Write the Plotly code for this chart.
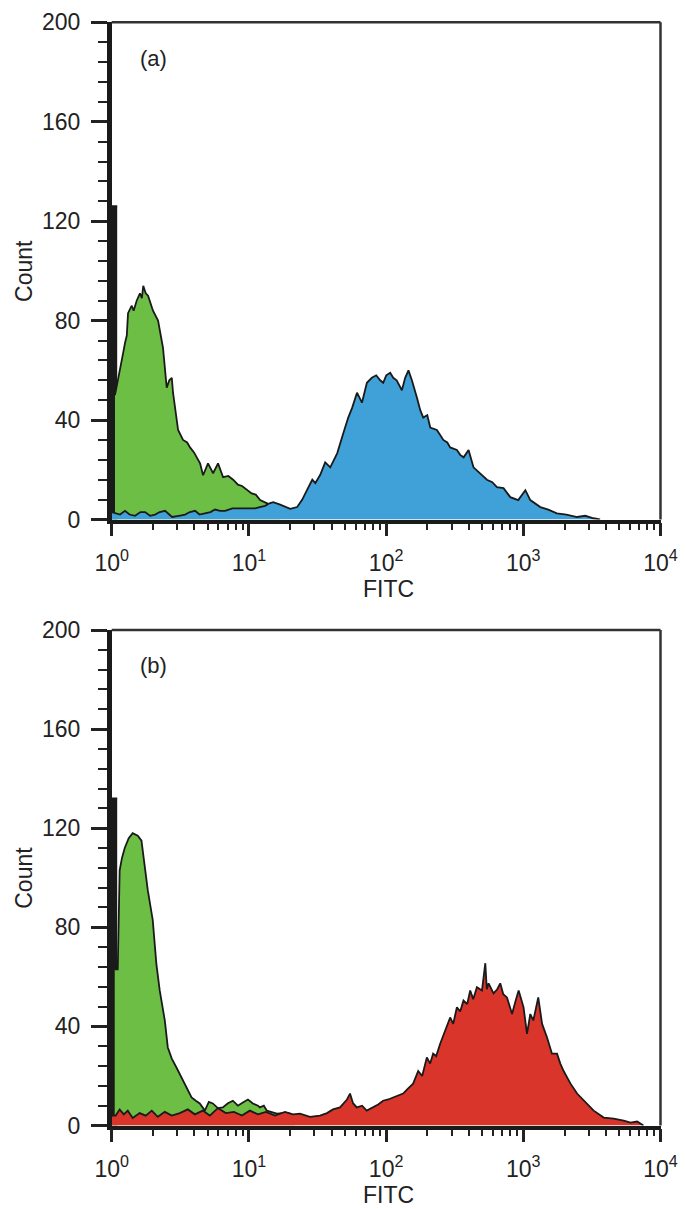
import plotly.graph_objects as go

# ---------------- data (log10 FITC position, count) ----------------
# Panel (a)
spike_a_exp = [0.0, 0.04]
spike_a_cnt = [126, 126]

green_a_exp = [0.024, 0.040, 0.061, 0.080, 0.097, 0.110, 0.119, 0.146, 0.160, 0.182, 0.206, 0.220, 0.230,
               0.248, 0.265, 0.301, 0.338, 0.374, 0.401, 0.420, 0.438, 0.447, 0.484, 0.520, 0.550, 0.571,
               0.600, 0.644, 0.666, 0.702, 0.739, 0.775, 0.812, 0.850, 0.885, 0.920, 0.950, 0.987, 1.020,
               1.050, 1.082, 1.133, 1.177, 1.230]
green_a_cnt = [50, 55, 60, 66, 71, 74, 83, 86, 84, 88, 91, 89, 94,
               91, 90, 84, 80, 69, 53, 56, 57, 51, 36, 32, 31, 29,
               27, 22.6, 17.8, 22.6, 18.6, 22.6, 17, 17.5, 16, 14, 13.5, 11.8, 10.5,
               10, 7.8, 6.5, 5, 2]

blue_a_exp = [0.0, 0.030, 0.061, 0.097, 0.130, 0.170, 0.210, 0.243, 0.280, 0.316, 0.350, 0.389, 0.440,
              0.490, 0.535, 0.570, 0.608, 0.640, 0.681, 0.720, 0.753, 0.790, 0.827, 0.880, 0.936, 0.990,
              1.045, 1.080, 1.118, 1.150, 1.177, 1.228, 1.270, 1.301, 1.352, 1.389, 1.425, 1.462, 1.484,
              1.520, 1.556, 1.593, 1.620, 1.644, 1.688, 1.724, 1.753, 1.788, 1.824, 1.860, 1.896, 1.928,
              1.957, 1.979, 2.001, 2.030, 2.052, 2.077, 2.115, 2.139, 2.163, 2.188, 2.225, 2.249, 2.271,
              2.300, 2.322, 2.370, 2.394, 2.417, 2.446, 2.467, 2.516, 2.540, 2.565, 2.601, 2.637, 2.686,
              2.735, 2.774, 2.808, 2.856, 2.905, 2.963, 3.015, 3.051, 3.124, 3.182, 3.245, 3.314, 3.392,
              3.452, 3.511, 3.560]
blue_a_cnt = [3, 2.5, 2, 3.5, 2, 1.5, 3, 3, 1.5, 2, 3, 3.5, 1,
              1.5, 2, 3, 3.5, 2, 2.5, 3, 4, 3.5, 3.5, 4.5, 4.5, 4.5,
              4.5, 5, 5.5, 6.5, 7, 6, 5, 4.3, 5, 8, 12, 16, 14.6,
              18, 23, 21, 24, 26.7, 34.7, 41, 45, 51, 47, 55, 57, 58,
              56, 55, 58, 59, 57, 56, 52, 57, 60, 56, 49, 44, 41,
              42, 37, 36, 34, 32, 31, 29, 28, 26, 25, 28, 21, 18.6,
              16, 15, 13, 12.6, 9, 7.8, 11.8, 7.8, 5, 4, 2.5, 2, 1,
              1.5, 0.5, 0]

# Panel (b)
spike_b_exp = [0.0, 0.04]
spike_b_cnt = [132, 132]

green_b_exp = [0.022, 0.044, 0.058, 0.075, 0.095, 0.124, 0.153, 0.190, 0.217, 0.241, 0.263, 0.299, 0.326,
               0.350, 0.387, 0.409, 0.438, 0.472, 0.509, 0.545, 0.582, 0.613, 0.642, 0.679, 0.708, 0.737,
               0.774, 0.810, 0.847, 0.883, 0.920, 0.956, 0.993, 1.029, 1.066, 1.080, 1.109, 1.131, 1.168,
               1.204, 1.248, 1.299, 1.336]
green_b_cnt = [63, 63, 103, 108, 112, 116, 118, 117, 115, 104, 95, 83, 65,
               54.5, 42.4, 31.5, 27, 23.4, 19.4, 15.4, 11.3, 10, 8.9, 6, 9.5, 8.9,
               7, 7.3, 9, 10, 8, 9.3, 10.5, 8.9, 8, 7.3, 8, 6, 5.5,
               4.8, 5, 4.8, 3]

red_b_exp = [0.0, 0.029, 0.058, 0.088, 0.117, 0.153, 0.204, 0.248, 0.292, 0.336, 0.387, 0.438, 0.496,
             0.555, 0.606, 0.664, 0.715, 0.774, 0.832, 0.891, 0.949, 1.007, 1.066, 1.124, 1.190, 1.263,
             1.321, 1.372, 1.445, 1.518, 1.569, 1.613, 1.664, 1.715, 1.737, 1.759, 1.786, 1.825, 1.859,
             1.905, 1.942, 1.978, 2.015, 2.051, 2.088, 2.124, 2.161, 2.197, 2.234, 2.263, 2.297, 2.321,
             2.343, 2.365, 2.394, 2.431, 2.467, 2.489, 2.516, 2.540, 2.564, 2.591, 2.613, 2.635, 2.662,
             2.699, 2.723, 2.734, 2.747, 2.783, 2.810, 2.832, 2.854, 2.881, 2.918, 2.942, 2.966, 3.002,
             3.027, 3.051, 3.073, 3.109, 3.137, 3.173, 3.209, 3.246, 3.270, 3.294, 3.343, 3.392, 3.440,
             3.474, 3.513, 3.586, 3.659, 3.732, 3.781, 3.830, 3.876]
red_b_cnt = [4, 4, 6.5, 4.5, 6, 3, 5, 4, 6, 3.5, 5.5, 4, 5,
             6.5, 4.5, 6, 4, 7, 5, 5.5, 4, 6, 4.5, 5.5, 4, 5.5,
             4.5, 4.8, 3.5, 4, 5, 6.5, 7.3, 10.5, 12.9, 9, 7.3, 8, 6,
             7.3, 8.5, 10, 10.5, 11.3, 12, 12.9, 15, 16.9, 22, 20, 27.5, 25,
             29, 28, 33, 38, 43.6, 41, 47.7, 46, 50.5, 49, 54.5, 51, 55.8,
             54.5, 65.5, 55, 57.4, 53.3, 55, 57.4, 53, 51.7, 45, 50, 54.5, 47.7,
             37, 45, 42.4, 51.7, 41, 35.5, 29, 29, 25, 22, 17, 12.9, 10,
             8, 6, 3.2, 2.8, 2, 1.2, 1.6, 0]

x_tick_vals = [1, 10, 100, 1000, 10000]
x_tick_text = ["10<sup>0</sup>", "10<sup>1</sup>", "10<sup>2</sup>", "10<sup>3</sup>", "10<sup>4</sup>"]
y_tick_vals = [0, 40, 80, 120, 160, 200]
panel_labels = ["(a)", "(b)"]

GREEN = "#6CBE45"
BLUE = "#40A0D8"
RED = "#D9352A"

# The page body has an 8 px margin, so the figure is 8 px smaller than the window
OFF = 8
W, H = 686 - OFF, 1209 - OFF
FONT = "Liberation Sans, Arial, sans-serif"


def lin(e):
    return [10 ** v for v in e]


def px_x(p):  # page pixel -> paper fraction
    return (p - OFF) / W


def px_y(p):
    return (H - (p - OFF)) / H


fig = go.Figure()


def add_fill(exp, cnt, color, xa, ya, shape="linear"):
    fig.add_trace(go.Scatter(
        x=lin(exp), y=cnt, xaxis=xa, yaxis=ya, mode="lines",
        line=dict(color="#1a1a1a", width=1.8, shape=shape),
        fill="tozeroy", fillcolor=color, showlegend=False, hoverinfo="skip"))


# panel a : green below, blue on top
add_fill(spike_a_exp, spike_a_cnt, "#1a1a1a", "x", "y", "hv")
add_fill(green_a_exp, green_a_cnt, GREEN, "x", "y")
add_fill(blue_a_exp, blue_a_cnt, BLUE, "x", "y")
# panel b : green below, red on top
add_fill(spike_b_exp, spike_b_cnt, "#1a1a1a", "x2", "y2", "hv")
add_fill(green_b_exp, green_b_cnt, GREEN, "x2", "y2")
add_fill(red_b_exp, red_b_cnt, RED, "x2", "y2")

xdom = [px_x(111.7), px_x(660.5)]
ydom_a = [px_y(519.5), px_y(22.3)]
ydom_b = [px_y(1125.5), px_y(630)]

tickfont = dict(family=FONT, size=23, color="#222222")

xcommon = dict(
    type="log", range=[0, 4], domain=xdom, automargin=False,
    tickmode="array", tickvals=x_tick_vals, ticktext=x_tick_text,
    ticks="outside", ticklen=13, tickwidth=2.5, tickcolor="#222222",
    minor=dict(dtick="D1", ticks="outside", ticklen=7, tickwidth=2, tickcolor="#222222", showgrid=False),
    showline=True, linecolor="#1a1a1a", linewidth=3.5,
    showgrid=False, zeroline=False, tickfont=tickfont, ticklabelstandoff=7,
)
ycommon = dict(
    range=[0, 200], tickmode="array", tickvals=y_tick_vals, automargin=False,
    ticks="outside", ticklen=16, tickwidth=2.5, tickcolor="#222222",
    minor=dict(dtick=8, ticks="outside", ticklen=9, tickwidth=2, tickcolor="#222222", showgrid=False),
    showline=True, linecolor="#1a1a1a", linewidth=4.5,
    showgrid=False, zeroline=False, tickfont=tickfont, ticklabelstandoff=6,
)

fig.update_layout(
    width=W, height=H, margin=dict(l=0, r=0, t=0, b=0, autoexpand=False),
    paper_bgcolor="white", plot_bgcolor="white",
    xaxis=dict(**xcommon, anchor="y"),
    yaxis=dict(**ycommon, domain=ydom_a, anchor="x"),
    xaxis2=dict(**xcommon, anchor="y2"),
    yaxis2=dict(**ycommon, domain=ydom_b, anchor="x2"),
)

# frame: top and right borders
for xr, yr in (("x domain", "y domain"), ("x2 domain", "y2 domain")):
    fig.add_shape(type="line", xref=xr, yref=yr, x0=0, x1=1, y0=1, y1=1,
                  line=dict(color="#333333", width=2.5))
    fig.add_shape(type="line", xref=xr, yref=yr, x0=1, x1=1, y0=0, y1=1,
                  line=dict(color="#333333", width=2.5))

labfont = dict(family=FONT, size=23, color="#222222")
for (bottom_px, top_px, lab) in ((519.5, 22.3, panel_labels[0]), (1125.5, 630, panel_labels[1])):
    fig.add_annotation(text="Count", xref="paper", yref="paper", x=px_x(24), y=px_y((bottom_px + top_px) / 2),
                       textangle=-90, showarrow=False, font=labfont, xanchor="center", yanchor="middle")
    fig.add_annotation(text="FITC", xref="paper", yref="paper", x=px_x(388), y=px_y(bottom_px + 69),
                       showarrow=False, font=labfont, xanchor="center", yanchor="middle")
    fig.add_annotation(text=lab, xref="paper", yref="paper", x=px_x(153), y=px_y(top_px + 36),
                       showarrow=False, font=dict(family=FONT, size=22, color="#222222"),
                       xanchor="center", yanchor="middle")

fig.write_html("out.html")
